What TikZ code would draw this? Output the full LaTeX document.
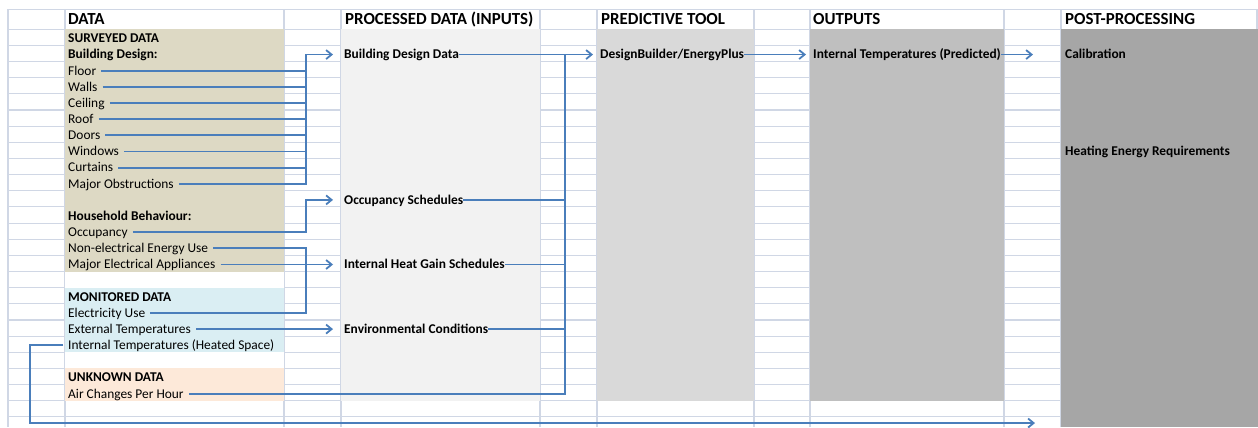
\documentclass[tikz,border=0pt]{standalone}
\usepackage{fontspec}
\setmainfont{Carlito}
\usetikzlibrary{arrows.meta}

\definecolor{gridc}{RGB}{208,215,229}
\definecolor{linkc}{RGB}{74,126,187}
\definecolor{surveyc}{RGB}{221,217,196}
\definecolor{monitorc}{RGB}{218,238,243}
\definecolor{unknownc}{RGB}{253,233,217}
\definecolor{procc}{RGB}{242,242,242}
\definecolor{toolc}{RGB}{217,217,217}
\definecolor{outc}{RGB}{191,191,191}
\definecolor{postc}{RGB}{166,166,166}

\newcommand{\bodyfont}{\fontsize{13.4}{16}\selectfont}
\newcommand{\headfont}{\fontsize{16.9}{20}\selectfont\bfseries}

\begin{document}
\begin{tikzpicture}[x=1pt,y=-16.15pt,>={Straight Barb[length=5.5pt,width=9pt]},
    gridline/.style={draw=gridc,line width=1.1pt},
    head/.style={anchor=base west,inner sep=0pt,font=\headfont},
    item/.style={anchor=base west,inner xsep=5pt,inner ysep=0pt,text height=8.6pt,text depth=0pt,font=\bodyfont},
    grouptitle/.style={item,font=\bodyfont\bfseries},
    field/.style={anchor=base west,inner sep=0pt,text height=8.6pt,text depth=0pt,font=\bodyfont\bfseries},
    link/.style={draw=linkc,line width=1.8pt},
    flow/.style={link,->}]
\useasboundingbox (0,-1.814) rectangle (1258,24.626);

% sheet grid
\draw[gridline] (8,-1.226) -- (1258,-1.226);
\foreach \r in {0,...,24} \draw[gridline] (8,\r) -- (1258,\r);
\foreach \c in {8,65,284,341,540,597,754,810,1004,1061,1257} \draw[gridline] (\c,-1.226) -- (\c,24.626);

% column fills
\fill[white]    (65,0)   rectangle (284,23);
\fill[surveyc]  (65,0)   rectangle (284,15);
\fill[monitorc] (65,16)  rectangle (284,20);
\fill[unknownc] (65,21)  rectangle (284,23);
\fill[procc]    (341,0)  rectangle (540,23);
\fill[toolc]    (597,0)  rectangle (754,23);
\fill[outc]     (810,0)  rectangle (1004,23);
\fill[postc]    (1061,0) rectangle (1257.5,24.626);

% headers
\node[head] (hdata) at (68,-0.27)   {DATA};
\node[head] (hproc) at (345,-0.27)  {PROCESSED DATA (INPUTS)};
\node[head] (htool) at (601,-0.27)  {PREDICTIVE TOOL};
\node[head] (hout)  at (813,-0.27)  {OUTPUTS};
\node[head] (hpost) at (1065,-0.27) {POST-PROCESSING};

% data
\node[grouptitle] (surveyed)  at (63,0.83)  {SURVEYED DATA};
\node[grouptitle] (bdesign)   at (63,1.83)  {Building Design:};
\node[item]       (floor)     at (63,2.83)  {Floor};
\node[item]       (walls)     at (63,3.83)  {Walls};
\node[item]       (ceiling)   at (63,4.83)  {Ceiling};
\node[item]       (roof)      at (63,5.83)  {Roof};
\node[item]       (doors)     at (63,6.83)  {Doors};
\node[item]       (windows)   at (63,7.83)  {Windows};
\node[item]       (curtains)  at (63,8.83)  {Curtains};
\node[item]       (obstr)     at (63,9.83)  {Major Obstructions};
\node[grouptitle] (household) at (63,11.83) {Household Behaviour:};
\node[item]       (occ)       at (63,12.83) {Occupancy};
\node[item]       (nonelec)   at (63,13.83) {Non-electrical Energy Use};
\node[item]       (appl)      at (63,14.83) {Major Electrical Appliances};
\node[grouptitle] (monitored) at (63,16.83) {MONITORED DATA};
\node[item]       (elec)      at (63,17.83) {Electricity Use};
\node[item]       (exttemp)   at (63,18.83) {External Temperatures};
\node[item]       (inttemp)   at (63,19.83) {Internal Temperatures (Heated Space)};
\node[grouptitle] (unknown)   at (63,21.83) {UNKNOWN DATA};
\node[item]       (ach)       at (63,22.83) {Air Changes Per Hour};

% processed data, tool, outputs, post-processing
\node[field] (bdd)    at (344,1.83)  {Building Design Data};
\node[field] (occsch) at (344,10.83) {Occupancy Schedules};
\node[field] (ihg)    at (344,14.83) {Internal Heat Gain Schedules};
\node[field] (env)    at (344,18.83) {Environmental Conditions};
\node[field] (dbep)   at (600,1.83)  {DesignBuilder/EnergyPlus};
\node[field] (itp)    at (813,1.83)  {Internal Temperatures (Predicted)};
\node[field] (calib)  at (1065,1.83) {Calibration};
\node[field] (heat)   at (1065,7.83) {Heating Energy Requirements};

\coordinate (lbus)  at (306,0);
\coordinate (rbus)  at (565,0);
\coordinate (loopl) at (30,24.38);
\coordinate (loopr) at (1035,24.38);

% connectors
\draw[link] (floor.east)    -- (floor.east -| lbus);
\draw[link] (walls.east)    -- (walls.east -| lbus);
\draw[link] (ceiling.east)  -- (ceiling.east -| lbus);
\draw[link] (roof.east)     -- (roof.east -| lbus);
\draw[link] (doors.east)    -- (doors.east -| lbus);
\draw[link] (windows.east)  -- (windows.east -| lbus);
\draw[link] (curtains.east) -- (curtains.east -| lbus);
\draw[flow,shorten >=11pt] (obstr.east) -| (lbus |- bdd.west) -- (bdd.west);
\draw[flow,shorten >=11pt] (occ.east) -| (lbus |- occsch.west) -- (occsch.west);
\draw[link] (nonelec.east) -| (lbus |- elec.east) -- (elec.east);
\draw[flow,shorten >=11pt] (appl.east) -- (ihg.west);
\draw[flow,shorten >=11pt] (exttemp.east) -- (env.west);
\draw[flow] (inttemp.west) -| (loopl) -- (loopr);
\draw[link] (occsch.east) -- (occsch.east -| rbus);
\draw[link] (ihg.east)    -- (ihg.east -| rbus);
\draw[link] (env.east)    -- (env.east -| rbus);
\draw[link] (ach.east) -| (rbus |- bdd.east);
\draw[flow,shorten >=7pt]  (bdd.east)  -- (dbep.west);
\draw[flow,shorten >=7pt]  (dbep.east) -- (itp.west);
\draw[flow,shorten >=32pt] (itp.east)  -- (calib.west);
\end{tikzpicture}
\end{document}
